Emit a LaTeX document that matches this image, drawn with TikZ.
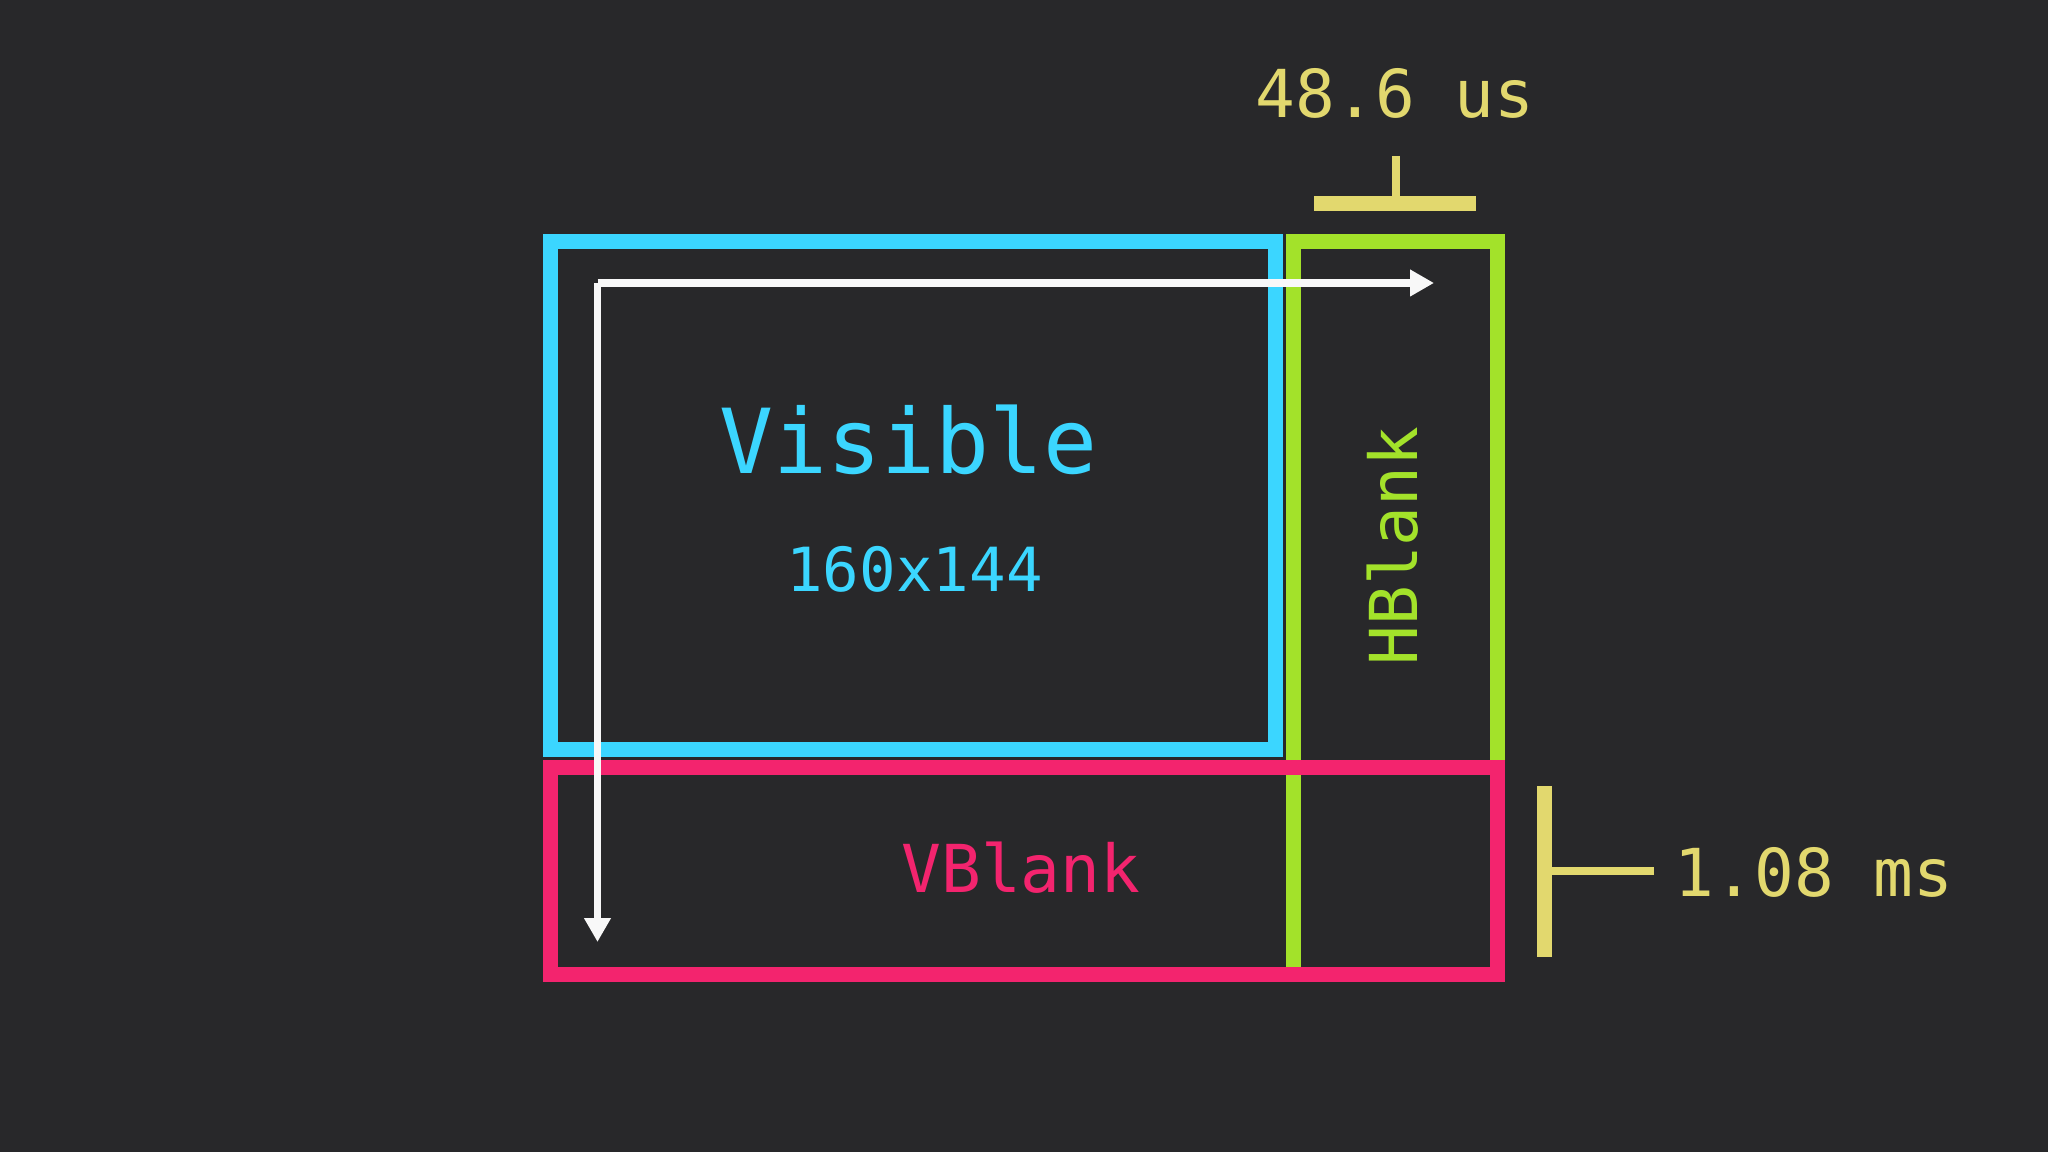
\documentclass[tikz,border=0pt]{standalone}
\usepackage{fontspec}
\newfontfamily\pixfont{DejaVu Sans Mono}
\usetikzlibrary{arrows.meta}
\definecolor{bgc}{RGB}{40,40,42}
\definecolor{cyanc}{RGB}{59,214,255}
\definecolor{greenc}{RGB}{163,226,42}
\definecolor{pinkc}{RGB}{243,36,110}
\definecolor{yellowc}{RGB}{226,216,110}
\definecolor{whitec}{RGB}{248,248,248}
\tikzset{
  boxline/.style={line width=4.27pt},
  scanarrow/.style={whitec, line width=2.2pt, -{Triangle[length=6.8pt,width=7.2pt]}},
  bar/.style={yellowc, line width=4.27pt},
  stem/.style={yellowc, line width=2.4pt},
  lbl/.style={inner sep=0pt, font=\pixfont},
}
\begin{document}
\begin{tikzpicture}[x=0.01cm,y=-0.01cm]
\fill[bgc] (0,0) rectangle (2048,1152);
\useasboundingbox (0,0) rectangle (2048,1152);
% boxes
\draw[boxline, greenc] (1293.5,241.5) rectangle (1497.5,974.5);
\draw[boxline, cyanc] (550.5,241.5) rectangle (1275,749.5);
\draw[boxline, pinkc] (550.5,767.5) rectangle (1497.5,974.5);
% texts
\node[lbl, cyanc, anchor=base, font=\pixfont\fontsize{25.5}{28}\selectfont] (vis) at (908.5,474) {Visible};
\node[lbl, cyanc, anchor=base, font=\pixfont\fontsize{17.3}{20}\selectfont] (res) at (914.5,592) {160x144};
\node[lbl, pinkc, anchor=base, font=\pixfont\fontsize{18.8}{20}\selectfont] (vb) at (1021,892) {VBlank};
\node[lbl, greenc, anchor=base, rotate=90, font=\pixfont\fontsize{18.8}{20}\selectfont] (hb) at (1417,546) {HBlank};
\node[lbl, yellowc, anchor=base, font=\pixfont\fontsize{18.8}{20}\selectfont] (hus) at (1395,118) {48.6 us};
\node[lbl, yellowc, anchor=base, font=\pixfont\fontsize{18.8}{20}\selectfont] (vms) at (1814,896) {1.08 ms};
% scan arrows
\coordinate (start) at (597.5,283);
\coordinate (hend) at (1434,283);
\coordinate (vend) at (597.5,942);
\draw[scanarrow] (start) -- (hend);
\draw[scanarrow] (start) -- (vend);
% yellow markers
\coordinate (hbl) at (1314,203.5);
\coordinate (hbr) at (1476,203.5);
\coordinate (hst) at (1396,156);
\coordinate (hsb) at (1396,198);
\draw[bar] (hbl) -- (hbr);
\draw[stem] (hst) -- (hsb);
\coordinate (vbt) at (1544.5,786);
\coordinate (vbb) at (1544.5,957);
\coordinate (vsl) at (1550,871);
\coordinate (vsr) at (1654,871);
\draw[bar] (vbt) -- (vbb);
\draw[stem] (vsl) -- (vsr);
\end{tikzpicture}
\end{document}
